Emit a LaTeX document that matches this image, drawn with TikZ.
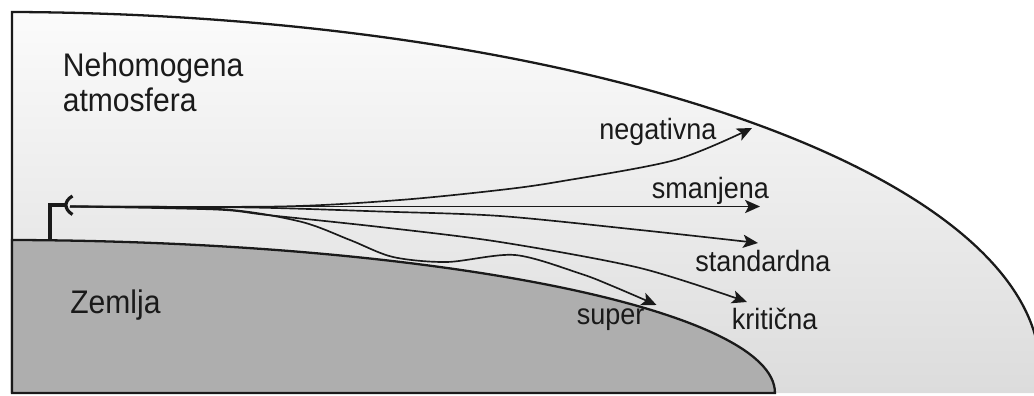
\documentclass[tikz,border=0pt]{standalone}
\usepackage{fontspec}
\setmainfont{Liberation Sans}[FakeStretch=0.92]
\usetikzlibrary{arrows.meta}
\definecolor{ink}{HTML}{1A1A1A}
\definecolor{earthfill}{HTML}{AEAEAE}
\definecolor{airtop}{HTML}{FBFBFB}
\definecolor{airbottom}{HTML}{DCDCDC}
\newcommand{\regionsize}{\fontsize{18.6}{19.9}\selectfont}
\newcommand{\raysize}{\fontsize{16.7}{20}\selectfont}
\tikzset{
 every node/.append style={text=ink,inner sep=0pt},
 region/.style={font=\regionsize,anchor=base west,align=left},
 raylabel/.style={font=\raysize,anchor=base west},
 rim/.style={draw=ink,line width=1.3pt},
 mast/.style={draw=ink,line width=2.3pt,line join=miter},
 ray/.style={-{Stealth[length=8.5pt,width=7.5pt,inset=2pt]},draw=ink,line width=.95pt},
}
\begin{document}
\begin{tikzpicture}

\useasboundingbox (0,0) rectangle (20.68,7.92);
\begin{scope}
\clip (0,0) rectangle (20.68,7.92);
\shade[top color=airtop,bottom color=airbottom] (0.24,0.06) -- (0.24,7.68) arc[start angle=89.34,end angle=-3.7,x radius=20.8,y radius=7.16] -- cycle;
\draw[rim] (0.24,0.06) -- (0.24,7.68) arc[start angle=89.34,end angle=-3.7,x radius=20.8,y radius=7.16];
\end{scope}
\filldraw[rim,fill=earthfill] (0.24,0.06) -- (0.24,3.12) arc[start angle=89.11,end angle=0,x radius=15.5,y radius=3.06] -- cycle;
\node[region] (air) at (1.25,5.69) {Nehomogena\\atmosfera};
\node[region] (earth) at (1.40,1.65) {Zemlja};
\coordinate (foot) at (1.0,3.10);
\coordinate (arm) at (1.0,3.82);
\coordinate (feed) at (1.32,3.82);
\coordinate (src) at (1.40,3.79);
\draw[mast] (foot) -- (arm) -- (feed);
\draw[mast,line width=1.8pt] (1.45,4.0) .. controls (1.35,3.94) and (1.32,3.88) .. (feed) .. controls (1.32,3.76) and (1.35,3.69) .. (1.45,3.63);
\coordinate (negtip) at (15.04,5.36);
\coordinate (smantip) at (15.2,3.79);
\coordinate (stdtip) at (15.16,3.06);
\coordinate (krittip) at (14.94,1.88);
\coordinate (suptip) at (13.13,1.82);
\draw[ray] plot[smooth,tension=.5] coordinates {(src) (5.6,3.79) (8,3.92) (10,4.12) (11.2,4.29) (13.5,4.72) (negtip)};
\draw[ray] (src) -- (smantip);
\draw[ray] plot[smooth,tension=.5] coordinates {(src) (5,3.77) (7.6,3.69) (10,3.6) (12.8,3.32) (stdtip)};
\draw[ray] plot[smooth,tension=.5] coordinates {(src) (4.3,3.73) (5.34,3.62) (7.6,3.38) (10,3.08) (12.8,2.56) (krittip)};
\draw[ray] plot[smooth,tension=.5] coordinates {(src) (4.4,3.74) (6,3.49) (7,3.12) (7.86,2.78) (8.94,2.68) (10.3,2.82) (11.6,2.45) (12.27,2.19) (suptip)};
\node[raylabel] (neg) at (11.98,5.13) {negativna};
\node[raylabel] (sman) at (13.03,3.95) {smanjena};
\node[raylabel] (std) at (13.9,2.49) {standardna};
\node[raylabel] (krit) at (14.63,1.33) {kritična};
\node[raylabel] (sup) at (11.53,1.42) {super};
\end{tikzpicture}
\end{document}
